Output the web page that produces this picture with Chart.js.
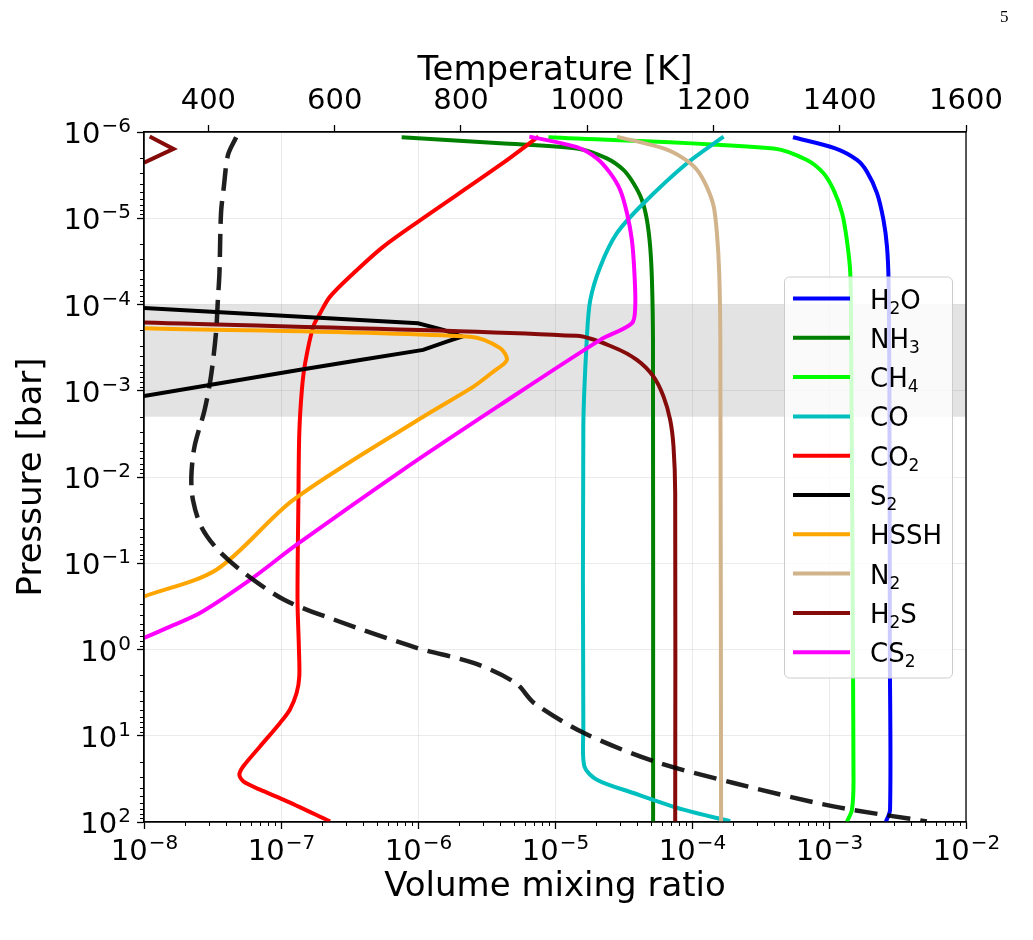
<!DOCTYPE html>
<html>
<head>
<meta charset="utf-8">
<script src="https://cdn.jsdelivr.net/npm/chart.js@4.4.1/dist/chart.umd.min.js"></script>
<style>
  html, body { margin: 0; padding: 0; background: #fff; }
  #wrap { position: relative; width: 1033px; height: 940px; }
  #pageno { position: absolute; left: 1000px; top: 7px; font-family: "Liberation Serif", serif; font-size: 17px; color: #000; }
</style>
</head>
<body>
<div id="wrap">
  <canvas id="mycanvas" width="1033" height="940"></canvas>
  <div id="pageno">5</div>
</div>
<script>
// pressure [bar] and volume mixing ratio
var h2oP = [1.15e-6, 1.55e-6, 2.11e-6, 2.88e-6, 5.1e-6, 1.05e-5, 2.13e-5, 5.2e-5, 1e-3, 1, 72, 100];
var h2oX = [5.46e-4, 1.11e-3, 1.6e-3, 1.89e-3, 2.24e-3, 2.5e-3, 2.65e-3, 2.72e-3, 2.76e-3, 2.78e-3, 2.79e-3, 2.6e-3];

var nh3P = [1.15e-6, 1.35e-6, 1.55e-6, 2.02e-6, 2.75e-6, 3.93e-6, 6.14e-6, 1.05e-5, 2.13e-5, 5.2e-5, 2.6e-4, 100];
var nh3X = [7.6e-7, 3.98e-6, 1.445e-5, 2.39e-5, 3.16e-5, 3.74e-5, 4.31e-5, 4.69e-5, 4.95e-5, 5.1e-5, 5.19e-5, 5.2e-5];

var ch4P = [1.15e-6, 1.55e-6, 2.11e-6, 3.01e-6, 4.7e-6, 8.7e-6, 1.79e-5, 4.34e-5, 2.6e-4, 32.4, 72, 100];
var ch4X = [8.95e-6, 3.94e-4, 6.9e-4, 9.12e-4, 1.08e-3, 1.245e-3, 1.35e-3, 1.43e-3, 1.45e-3, 1.51e-3, 1.47e-3, 1.35e-3];

var coP = [1.13e-6, 2.3e-6, 6.7e-6, 1.49e-5, 3.64e-5, 8.85e-5, 2.36e-4, 2.6e-3, 8.5, 22.7, 32.3, 46.1, 72, 98];
var coX = [1.7e-4, 9.19e-5, 4.43e-5, 2.83e-5, 2.14e-5, 1.81e-5, 1.71e-5, 1.61e-5, 1.61e-5, 1.64e-5, 2.02e-5, 3.74e-5, 8.67e-5, 1.9e-4];

var co2P = [1.13e-6, 2.41e-6, 1.05e-5, 2.13e-5, 4.34e-5, 8.1e-5, 1.26e-4, 1.8e-4, 4.8e-4, 9.8e-4, 3.1e-3, 1.84e-2, 0.265, 0.92, 2.05, 3.2, 4.99, 7.1, 13.3, 22.6, 28.3, 33.8, 42.2, 55.1, 98.4];
var co2X = [7.57e-6, 3.98e-6, 1.04e-6, 5.59e-7, 3.38e-7, 2.28e-7, 1.93e-7, 1.72e-7, 1.5e-7, 1.42e-7, 1.36e-7, 1.34e-7, 1.32e-7, 1.35e-7, 1.36e-7, 1.3e-7, 1.16e-7, 9.84e-8, 7.03e-8, 5.31e-8, 4.97e-8, 5.31e-8, 7.03e-8, 1.04e-7, 2.28e-7];

var s2P = [1.1e-4, 1.65e-4, 1.97e-4, 2.36e-4, 2.69e-4, 3.36e-4, 4.39e-4, 5.7e-4, 1.15e-3];
var s2X = [1e-8, 1.0e-6, 1.53e-6, 2.09e-6, 1.62e-6, 1.09e-6, 3.78e-7, 1.38e-7, 1e-8];

var hsshP = [1.88e-4, 2.36e-4, 3.2e-4, 4.4e-4, 6.0e-4, 8.95e-4, 2.0e-3, 1.84e-2, 0.118, 0.243];
var hsshX = [1e-8, 2.4e-6, 3.98e-6, 4.45e-6, 3.55e-6, 2.54e-6, 1.09e-6, 1.23e-7, 3.4e-8, 1e-8];

var n2P = [1.13e-6, 1.55e-6, 2.02e-6, 2.75e-6, 4.3e-6, 7.3e-6, 1.49e-5, 4.34e-5, 2.6e-4, 100];
var n2X = [2.83e-5, 6.2e-5, 8.67e-5, 1.09e-4, 1.28e-4, 1.44e-4, 1.52e-4, 1.58e-4, 1.61e-4, 1.63e-4];

var h2sP = [1.62e-4, 2.31e-4, 3.13e-4, 4.39e-4, 6.86e-4, 1.17e-3, 2.18e-3, 4.44e-3, 1.54e-2, 100];
var h2sX = [1e-8, 1.445e-5, 2.67e-5, 3.96e-5, 5.24e-5, 6.2e-5, 6.93e-5, 7.33e-5, 7.54e-5, 7.54e-5];
// H2S also pokes into the plot at the very top left
var h2sTopP = [1.13e-6, 1.57e-6, 2.27e-6];
var h2sTopX = [1.1e-8, 1.64e-8, 1e-8];

var cs2P = [1.13e-6, 1.5e-6, 2.02e-6, 3.0e-6, 4.7e-6, 8.7e-6, 1.79e-5, 4.34e-5, 1.06e-4, 1.65e-4, 2.57e-4, 1.46e-3, 8.7e-3, 6.1e-2, 0.156, 0.378, 0.565, 0.736];
var cs2X = [6.5e-6, 1.445e-5, 2.02e-5, 2.53e-5, 2.99e-5, 3.35e-5, 3.64e-5, 3.8e-5, 3.85e-5, 3.64e-5, 2.14e-5, 3.98e-6, 7.4e-7, 1.3e-7, 5.94e-8, 2.56e-8, 1.46e-8, 1e-8];

// temperature profile (top axis)
var tempP = [1.15e-6, 1.85e-6, 4.3e-6, 8.7e-6, 4.34e-5, 8.85e-5, 2.15e-4, 6.86e-4, 1.67e-3, 4.44e-3, 9.9e-3, 1.84e-2, 3.75e-2, 6.98e-2, 0.13, 0.265, 0.452, 0.962, 1.44, 2.45, 4.18, 9.3, 19.8, 35.3, 65.9, 98.4];
var tempK = [444, 431, 424.5, 420, 417.5, 415, 412, 404, 394, 378, 373, 375.5, 388.6, 415, 457, 520, 599.5, 731, 821, 887, 916, 995, 1106, 1232, 1390, 1538];

var labels = ["H2O", "NH3", "CH4", "CO", "CO2", "S2", "HSSH", "N2", "H2S", "CS2"];
var colors = ["#0000ff", "#008000", "#00ff00", "#00bfbf", "#ff0000", "#000000", "#ffa500", "#d2b48c", "#850a0a", "#ff00ff"];
var profP = [h2oP, nh3P, ch4P, coP, co2P, s2P, hsshP, n2P, h2sP, cs2P];
var profX = [h2oX, nh3X, ch4X, coX, co2X, s2X, hsshX, n2X, h2sX, cs2X];

var pTicks = [1e-6, 1e-5, 1e-4, 1e-3, 1e-2, 1e-1, 1, 10, 100];
var xTicks = [1e-8, 1e-7, 1e-6, 1e-5, 1e-4, 1e-3, 1e-2];
var tTicks = [400, 600, 800, 1000, 1200, 1400, 1600];
var bandP = [1e-4, 2e-3];

var FONT = '"DejaVu Sans", sans-serif';
Chart.defaults.font.family = FONT;
Chart.defaults.color = "#000";

function pts(xs, ps) {
    var out = [];
    for (var i = 0; i < xs.length; i++) out.push({x: xs[i], y: ps[i]});
    return out;
}

function profile(label, xs, ps, color, tension, order) {
    return {
        label: label,
        data: pts(xs, ps),
        borderColor: color,
        backgroundColor: color,
        borderWidth: 4,
        showLine: true,
        pointRadius: 0,
        tension: tension,
        xAxisID: "x",
        yAxisID: "y",
        order: order
    };
}

var datasets = [];
for (var i = 0; i < labels.length; i++) {
    datasets.push(profile(labels[i], profX[i], profP[i], colors[i], labels[i] == "S2" ? 0 : 0.3, labels.length - i));
}
datasets.push(profile("H2S", h2sTopX, h2sTopP, colors[8], 0, 2));
datasets.push({
    label: "T",
    data: pts(tempK, tempP),
    borderColor: "rgba(0,0,0,0.88)",
    borderWidth: 4.5,
    borderDash: [23, 10],
    showLine: true,
    pointRadius: 0,
    tension: 0.3,
    xAxisID: "x2",
    yAxisID: "y",
    order: -1
});

// "10" with a raised exponent, like matplotlib's mathtext labels
function powLabel(c, e, x, y, align) {
    var base = "10", ex = (e < 0 ? "\u2212" : "") + Math.abs(e);
    c.font = "29px " + FONT;
    var wb = c.measureText(base).width;
    c.font = "20px " + FONT;
    var we = c.measureText(ex).width;
    var x0 = align === "right" ? x - wb - we : x - (wb + we) / 2;
    c.textAlign = "left";
    c.textBaseline = "alphabetic";
    c.font = "29px " + FONT;
    c.fillText(base, x0, y);
    c.font = "20px " + FONT;
    c.fillText(ex, x0 + wb + 1, y - 11);
}

function chemLabel(c, s, x, y) {
    for (var k = 0; k < s.length; k++) {
        var ch = s[k];
        if (ch >= "0" && ch <= "9") {
            c.font = "17px " + FONT;
            c.fillText(ch, x, y + 5);
        } else {
            c.font = "26px " + FONT;
            c.fillText(ch, x, y);
        }
        x += c.measureText(ch).width;
    }
}

var decor = {
    id: "decor",
    beforeDatasetsDraw: function(chart) {
        var a = chart.chartArea, c = chart.ctx, ys = chart.scales.y;
        var y1 = ys.getPixelForValue(bandP[0]), y2 = ys.getPixelForValue(bandP[1]);
        c.save();
        c.fillStyle = "rgba(0,0,0,0.11)";
        c.fillRect(a.left, y1, a.right - a.left, y2 - y1);
        c.restore();
    },
    afterDatasetsDraw: function(chart) {
        var a = chart.chartArea, c = chart.ctx;
        var xs = chart.scales.x, ys = chart.scales.y;
        c.save();
        // spines
        c.strokeStyle = "#000";
        c.lineWidth = 1.3;
        c.strokeRect(a.left, a.top, a.right - a.left, a.bottom - a.top);

        // minor log ticks
        c.lineWidth = 1;
        c.beginPath();
        for (var e = -8; e < -2; e++) {
            for (var k = 2; k < 10; k++) {
                var px = Math.round(xs.getPixelForValue(k * Math.pow(10, e))) + 0.5;
                c.moveTo(px, a.bottom); c.lineTo(px, a.bottom + 4);
            }
        }
        for (var e2 = -6; e2 < 2; e2++) {
            for (var k2 = 2; k2 < 10; k2++) {
                var py = Math.round(ys.getPixelForValue(k2 * Math.pow(10, e2))) + 0.5;
                c.moveTo(a.left, py); c.lineTo(a.left - 4, py);
            }
        }
        c.stroke();

        // tick labels
        c.fillStyle = "#000";
        xTicks.forEach(function(v) {
            powLabel(c, Math.round(Math.log10(v)), xs.getPixelForValue(v), 860, "center");
        });
        pTicks.forEach(function(v) {
            powLabel(c, Math.round(Math.log10(v)), 130, ys.getPixelForValue(v) + 11, "right");
        });

        // legend, center right
        var w = 168, h = 401;
        var lx = a.right - 14 - w, ly = (a.top + a.bottom) / 2 - h / 2;
        c.fillStyle = "rgba(255,255,255,0.8)";
        c.strokeStyle = "#cccccc";
        c.lineWidth = 1;
        c.beginPath();
        c.roundRect(lx + 0.5, ly + 0.5, w, h, 5);
        c.fill();
        c.stroke();
        for (var i = 0; i < labels.length; i++) {
            var ry = ly + 22 + i * 39.3;
            c.strokeStyle = colors[i];
            c.lineWidth = 4;
            c.beginPath();
            c.moveTo(lx + 9, ry); c.lineTo(lx + 66, ry);
            c.stroke();
            c.fillStyle = "#000";
            c.textAlign = "left";
            c.textBaseline = "alphabetic";
            chemLabel(c, labels[i], lx + 86, ry + 10);
        }
        c.restore();
    }
};

var ctx = document.getElementById("mycanvas");

var chart = new Chart(ctx, {
    type: "scatter",
    data: {datasets: datasets},
    options: {
        responsive: false,
        animation: false,
        devicePixelRatio: 1,
        layout: {padding: {left: 0, right: 67, top: 0, bottom: 0}},
        plugins: {legend: {display: false}, tooltip: {enabled: false}},
        scales: {
            x: {
                type: "logarithmic",
                position: "bottom",
                min: 1e-8,
                max: 1e-2,
                afterBuildTicks: function(s) { s.ticks = xTicks.map(function(v) { return {value: v}; }); },
                afterFit: function(s) { s.height = 118; },
                ticks: {display: false},
                grid: {color: "rgba(0,0,0,0.08)", tickColor: "#000", tickLength: 7, tickWidth: 1.3},
                border: {color: "#000", width: 1.3},
                title: {display: true, text: "Volume mixing ratio", font: {size: 34}, padding: {top: 0, bottom: 32}}
            },
            x2: {
                type: "linear",
                position: "top",
                min: 298,
                max: 1600,
                afterBuildTicks: function(s) { s.ticks = tTicks.map(function(v) { return {value: v}; }); },
                afterFit: function(s) { s.height = 132; },
                ticks: {
                    font: {size: 29}, padding: 6, autoSkip: false, maxRotation: 0,
                    callback: function(v) { return String(v); }
                },
                grid: {drawOnChartArea: false, tickColor: "#000", tickLength: 7, tickWidth: 1.3},
                border: {color: "#000", width: 1.3},
                title: {display: true, text: "Temperature [K]", font: {size: 34}, padding: {top: 51, bottom: 0}}
            },
            y: {
                type: "logarithmic",
                reverse: true,
                min: 1e-6,
                max: 100,
                afterBuildTicks: function(s) { s.ticks = pTicks.map(function(v) { return {value: v}; }); },
                afterFit: function(s) { s.width = 144; },
                ticks: {display: false},
                grid: {color: "rgba(0,0,0,0.08)", tickColor: "#000", tickLength: 7, tickWidth: 1.3},
                border: {color: "#000", width: 1.3},
                title: {display: true, text: "Pressure [bar]", font: {size: 34}, padding: {top: 12, bottom: 0}}
            }
        }
    },
    plugins: [decor]
});
</script>
</body>
</html>
